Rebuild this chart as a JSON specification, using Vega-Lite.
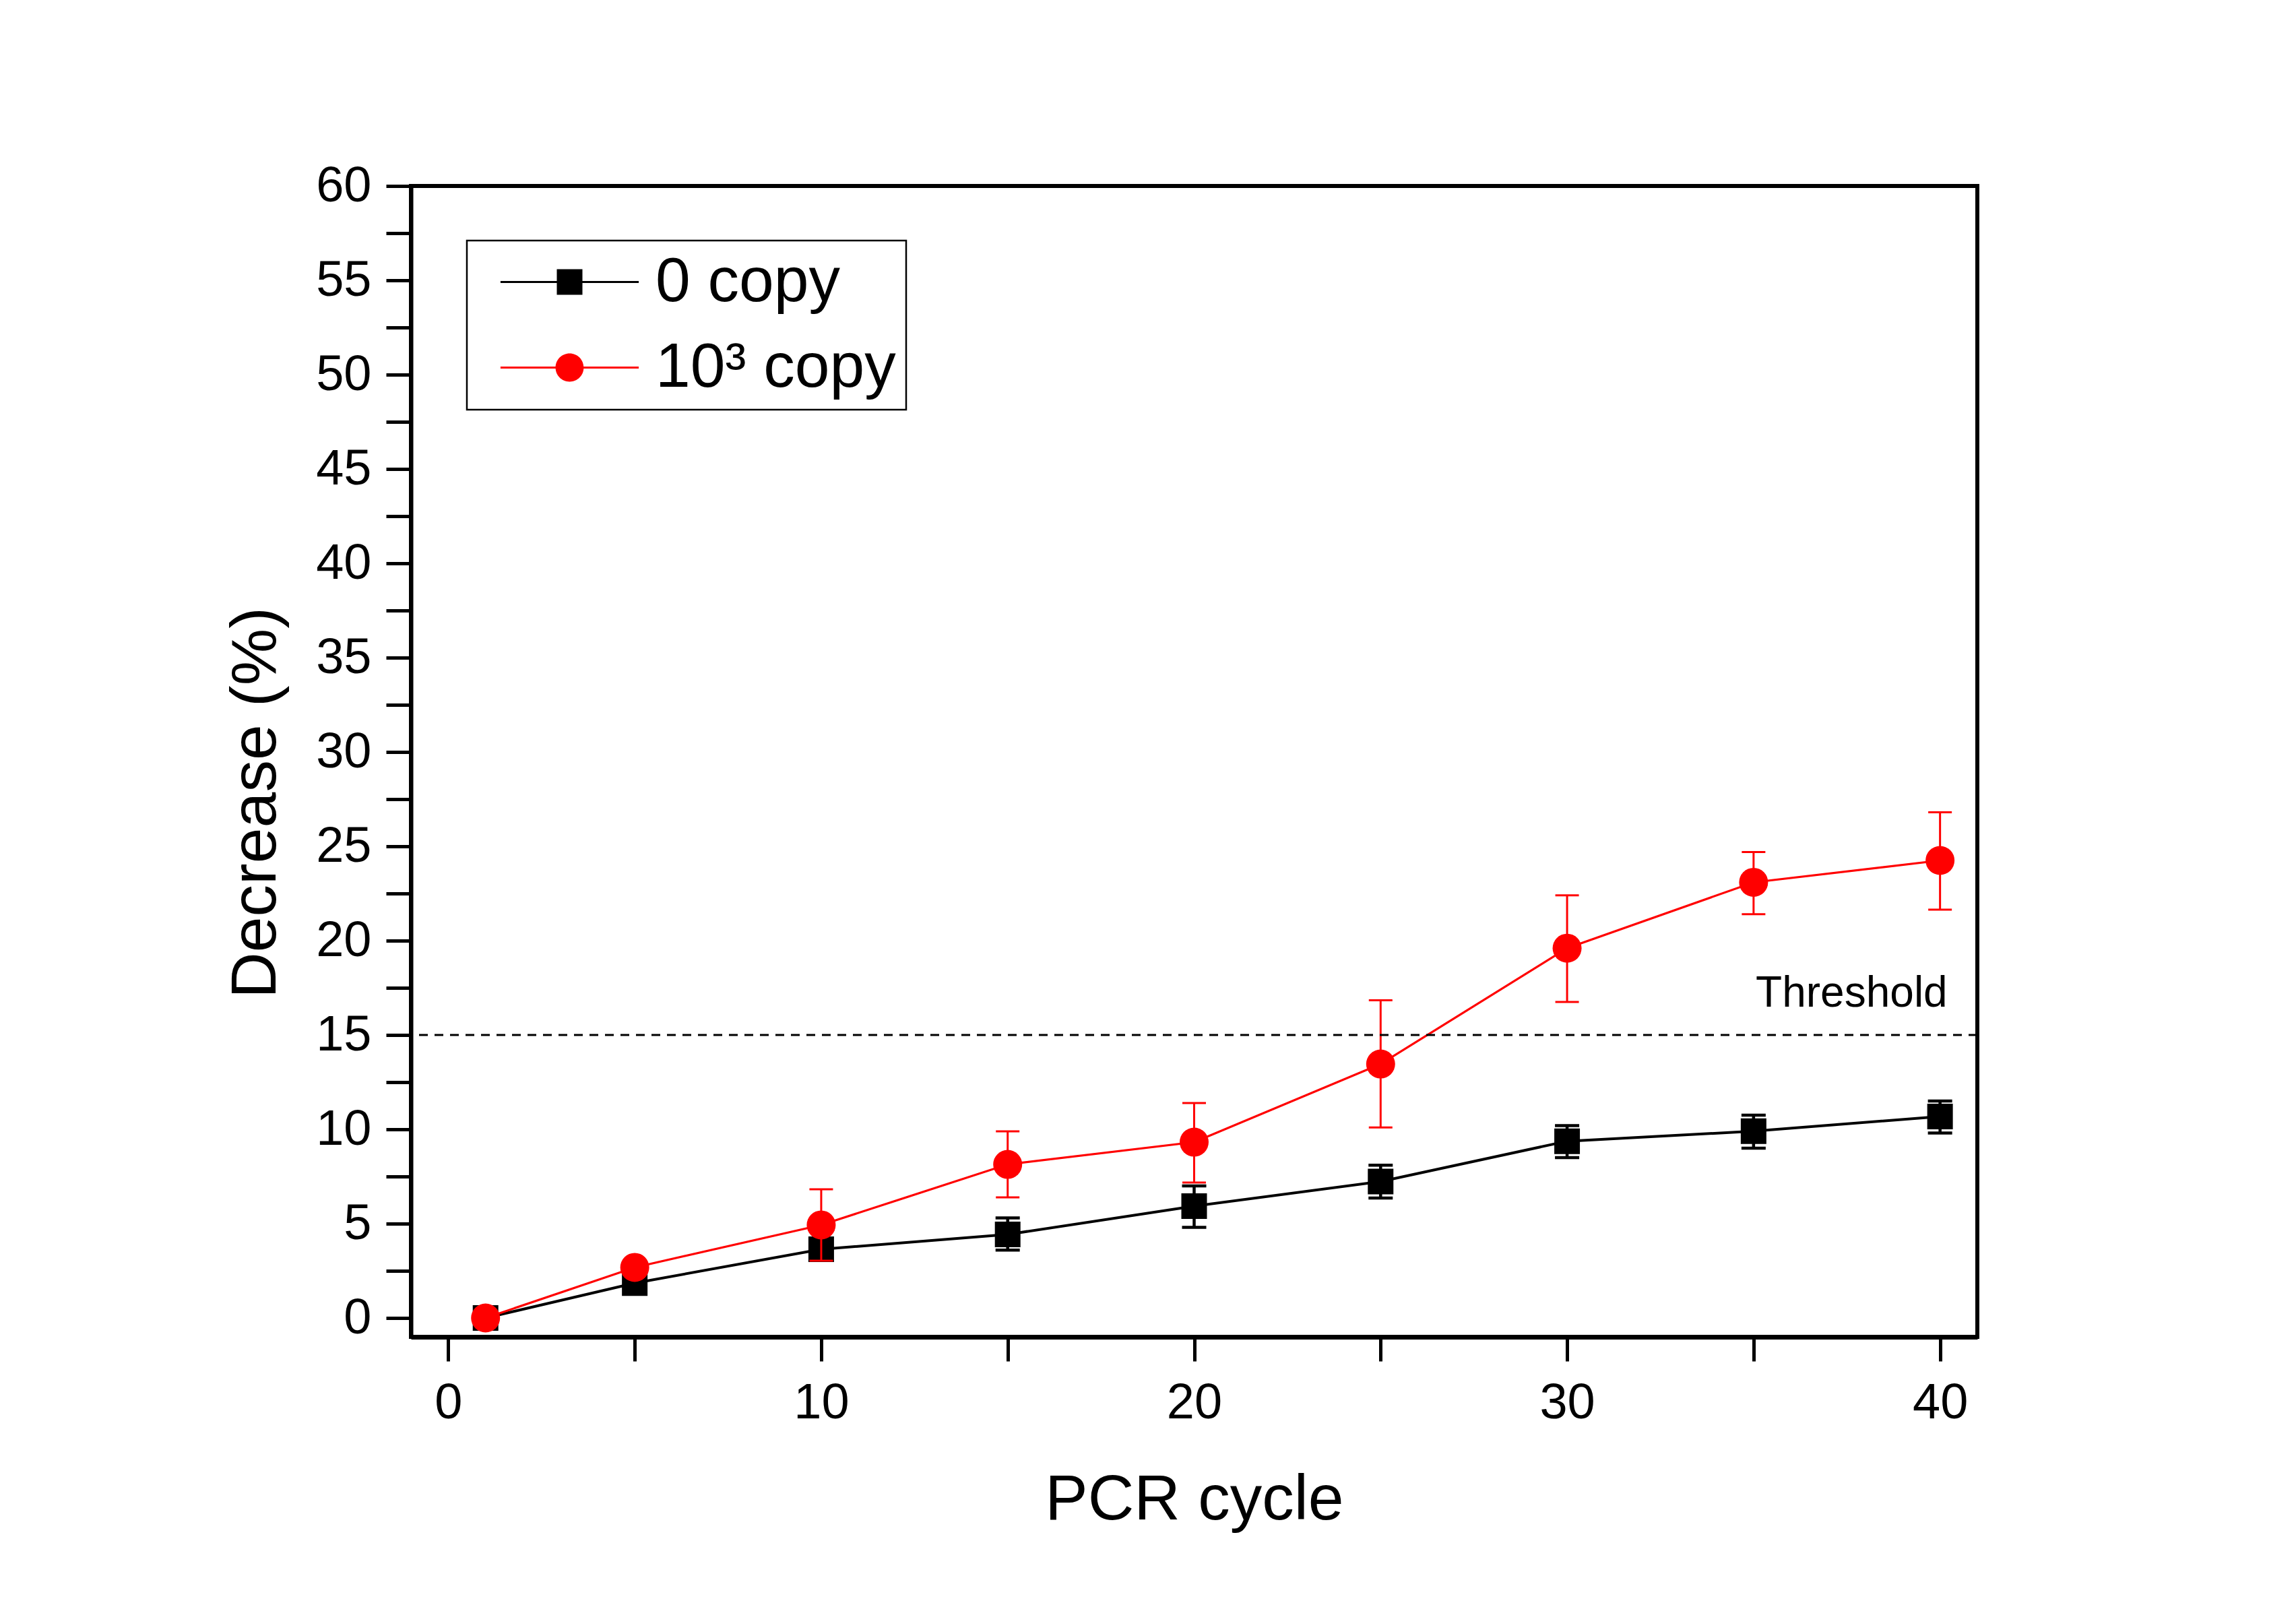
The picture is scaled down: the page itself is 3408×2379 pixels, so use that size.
{
  "$schema": "https://vega.github.io/schema/vega-lite/v6.json",
  "width": 2325,
  "height": 1708,
  "autosize": {"type": "none"},
  "padding": {"left": 610, "top": 276, "right": 473, "bottom": 395},
  "background": "#ffffff",
  "config": {
    "font": "Liberation Sans",
    "view": {"stroke": "#000000", "strokeWidth": 6},
    "axis": {"grid": false},
    "legend": {"strokeWidth": 2.5}
  },
  "data": {
    "values": [
      {"series": "0 copy", "cycle": 1, "decrease": 0, "lo": 0, "hi": 0},
      {"series": "0 copy", "cycle": 5, "decrease": 1.85, "lo": 1.4, "hi": 2.3},
      {"series": "0 copy", "cycle": 10, "decrease": 3.64, "lo": 3.1, "hi": 4.2},
      {"series": "0 copy", "cycle": 15, "decrease": 4.43, "lo": 3.6, "hi": 5.3},
      {"series": "0 copy", "cycle": 20, "decrease": 5.93, "lo": 4.8, "hi": 7.0},
      {"series": "0 copy", "cycle": 25, "decrease": 7.23, "lo": 6.36, "hi": 8.1},
      {"series": "0 copy", "cycle": 30, "decrease": 9.37, "lo": 8.5, "hi": 10.2},
      {"series": "0 copy", "cycle": 35, "decrease": 9.9, "lo": 9.0, "hi": 10.75},
      {"series": "0 copy", "cycle": 40, "decrease": 10.68, "lo": 9.8, "hi": 11.5},
      {"series": "10³ copy", "cycle": 1, "decrease": 0, "lo": 0, "hi": 0},
      {"series": "10³ copy", "cycle": 5, "decrease": 2.68, "lo": 2.4, "hi": 2.95},
      {"series": "10³ copy", "cycle": 10, "decrease": 4.93, "lo": 3.04, "hi": 6.82},
      {"series": "10³ copy", "cycle": 15, "decrease": 8.14, "lo": 6.39, "hi": 9.89},
      {"series": "10³ copy", "cycle": 20, "decrease": 9.32, "lo": 7.18, "hi": 11.39},
      {"series": "10³ copy", "cycle": 25, "decrease": 13.46, "lo": 10.1, "hi": 16.84},
      {"series": "10³ copy", "cycle": 30, "decrease": 19.6, "lo": 16.75, "hi": 22.4},
      {"series": "10³ copy", "cycle": 35, "decrease": 23.09, "lo": 21.4, "hi": 24.7},
      {"series": "10³ copy", "cycle": 40, "decrease": 24.25, "lo": 21.64, "hi": 26.8}
    ]
  },
  "layer": [
    {
      "transform": [{"filter": "datum.series === '0 copy'"}],
      "encoding": {
        "x": {
          "field": "cycle", "type": "quantitative", "title": "PCR cycle",
          "scale": {"domain": [-1, 41], "nice": false, "zero": false},
          "axis": {
            "values": [0, 5, 10, 15, 20, 25, 30, 35, 40],
            "labelExpr": "datum.value % 10 === 0 ? datum.label : ''",
            "tickSize": 36, "tickWidth": 5, "tickColor": "#000000",
            "domainWidth": 7, "domainColor": "#000000",
            "labelFontSize": 74, "labelFont": "Liberation Sans", "labelColor": "#000000", "labelPadding": 26,
            "labelFlush": false, "labelOverlap": false,
            "titleFontSize": 95, "titleFont": "Liberation Sans", "titleFontWeight": "normal", "titleColor": "#000000", "titlePadding": 60,
            "encode": {"ticks": {"y2": {"condition": {"test": "datum.value % 10 === 0", "value": 36}, "value": 24}}}
          }
        },
        "y": {
          "field": "decrease", "type": "quantitative", "title": "Decrease (%)",
          "scale": {"domain": [-1, 60], "nice": false, "zero": false},
          "axis": {
            "values": [0, 2.5, 5, 7.5, 10, 12.5, 15, 17.5, 20, 22.5, 25, 27.5, 30, 32.5, 35, 37.5, 40, 42.5, 45, 47.5, 50, 52.5, 55, 57.5, 60],
            "labelExpr": "datum.value % 5 === 0 ? datum.label : ''",
            "tickSize": 37, "tickWidth": 5, "tickColor": "#000000",
            "domainWidth": 6, "domainColor": "#000000",
            "labelFontSize": 74, "labelFont": "Liberation Sans", "labelColor": "#000000", "labelPadding": 22,
            "labelFlush": false, "labelOverlap": false,
            "titleFontSize": 95, "titleFont": "Liberation Sans", "titleFontWeight": "normal", "titleColor": "#000000", "titlePadding": 40,
            "titleY": 915,
            "encode": {"ticks": {"x2": {"condition": {"test": "datum.value % 5 === 0", "value": -37}, "value": -21}}}
          }
        }
      },
      "layer": [
        {"mark": {"type": "rule", "strokeWidth": 4.5, "color": "#000000"}, "encoding": {"y": {"field": "lo", "type": "quantitative", "title": "Decrease (%)"}, "y2": {"field": "hi"}}},
        {"mark": {"type": "tick", "orient": "horizontal", "size": 36, "thickness": 4.5, "opacity": 1, "color": "#000000"}, "encoding": {"y": {"field": "lo", "type": "quantitative", "title": "Decrease (%)"}}},
        {"mark": {"type": "tick", "orient": "horizontal", "size": 36, "thickness": 4.5, "opacity": 1, "color": "#000000"}, "encoding": {"y": {"field": "hi", "type": "quantitative", "title": "Decrease (%)"}}},
        {"mark": {"type": "line", "strokeWidth": 4, "color": "#000000"}},
        {"mark": {"type": "point", "filled": true, "shape": "square", "size": 1444, "opacity": 1, "strokeWidth": 0, "color": "#000000"}}
      ]
    },
    {
      "transform": [{"filter": "datum.series === '10³ copy'"}],
      "encoding": {
        "x": {"field": "cycle", "type": "quantitative", "title": "PCR cycle"},
        "y": {"field": "decrease", "type": "quantitative", "title": "Decrease (%)"}
      },
      "layer": [
        {"mark": {"type": "rule", "strokeWidth": 3, "color": "#ff0000"}, "encoding": {"y": {"field": "lo", "type": "quantitative", "title": "Decrease (%)"}, "y2": {"field": "hi"}}},
        {"mark": {"type": "tick", "orient": "horizontal", "size": 35, "thickness": 3, "opacity": 1, "color": "#ff0000"}, "encoding": {"y": {"field": "lo", "type": "quantitative", "title": "Decrease (%)"}}},
        {"mark": {"type": "tick", "orient": "horizontal", "size": 35, "thickness": 3, "opacity": 1, "color": "#ff0000"}, "encoding": {"y": {"field": "hi", "type": "quantitative", "title": "Decrease (%)"}}},
        {"mark": {"type": "line", "strokeWidth": 3.2, "color": "#ff0000"}},
        {"mark": {"type": "point", "filled": true, "shape": "circle", "size": 1849, "opacity": 1, "strokeWidth": 0, "color": "#ff0000"}}
      ]
    },
    {
      "mark": {"type": "point", "filled": true, "opacity": 0, "size": 1444},
      "encoding": {
        "x": {"field": "cycle", "type": "quantitative", "title": "PCR cycle"},
        "y": {"field": "decrease", "type": "quantitative", "title": "Decrease (%)"},
        "color": {
          "field": "series", "type": "nominal",
          "scale": {"domain": ["0 copy", "10³ copy"], "range": ["#000000", "#ff0000"]},
          "legend": {
            "title": null, "orient": "none", "legendX": 83, "legendY": 81, "direction": "vertical",
            "padding": 15, "strokeColor": "#000000", "fillColor": "#ffffff",
            "symbolSize": 1444, "symbolStrokeWidth": 0, "symbolOpacity": 1, "symbolOffset": 91, "labelOffset": 81,
            "labelFontSize": 93, "labelFont": "Liberation Sans", "labelColor": "#000000", "labelLimit": 2000,
            "rowPadding": 33,
            "encode": {"legend": {"strokeWidth": {"value": 2.5}}}
          }
        },
        "shape": {
          "field": "series", "type": "nominal",
          "scale": {"domain": ["0 copy", "10³ copy"], "range": ["M-5.4,-0.085H5.4V0.085H-5.4ZM-1,-1H1V1H-1Z", "M-5.4,-0.085H5.4V0.085H-5.4ZM1.1,0A1.1,1.1,0,1,1,-1.1,0A1.1,1.1,0,1,1,1.1,0Z"]},
          "legend": {
            "title": null, "orient": "none", "legendX": 83, "legendY": 81, "direction": "vertical",
            "padding": 15, "strokeColor": "#000000", "fillColor": "#ffffff",
            "symbolSize": 1444, "symbolStrokeWidth": 0, "symbolOpacity": 1, "symbolOffset": 91, "labelOffset": 81,
            "labelFontSize": 93, "labelFont": "Liberation Sans", "labelColor": "#000000", "labelLimit": 2000,
            "rowPadding": 33,
            "encode": {"legend": {"strokeWidth": {"value": 2.5}}}
          }
        }
      }
    },
    {
      "data": {"values": [{"threshold": 15}]},
      "mark": {"type": "rule", "color": "#000000", "strokeWidth": 3, "strokeDash": [13, 10]},
      "encoding": {"y": {"datum": 15, "type": "quantitative"}}
    },
    {
      "data": {"values": [{"cycle": 40.2, "decrease": 16.5, "label": "Threshold"}]},
      "mark": {"type": "text", "align": "right", "baseline": "alphabetic", "fontSize": 64, "font": "Liberation Sans", "color": "#000000"},
      "encoding": {
        "x": {"field": "cycle", "type": "quantitative", "title": "PCR cycle"},
        "y": {"field": "decrease", "type": "quantitative", "title": "Decrease (%)"},
        "text": {"field": "label"}
      }
    }
  ]
}
